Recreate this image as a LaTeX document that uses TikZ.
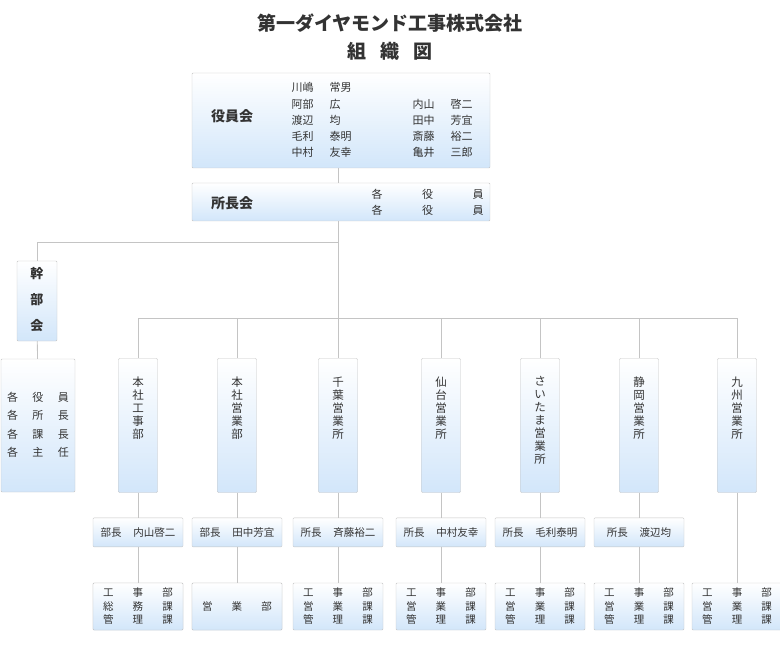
\documentclass[tikz,border=0pt]{standalone}
\usepackage{fontspec}
\setmainfont{Noto Sans CJK JP}
\usetikzlibrary{positioning}
\definecolor{txt}{HTML}{333333}
\definecolor{edge}{HTML}{C4C4C4}
\definecolor{boxblue}{HTML}{D2E6FA}
\newcommand{\trio}[3]{\hbox to 70pt{#1\hfil #2\hfil #3}}

\begin{document}
\begin{tikzpicture}[x=1pt, y=-1pt,
    every node/.style={text=txt},
    box/.style={rectangle, draw=edge, top color=white, bottom color=boxblue, rounded corners=1pt, inner sep=0pt},
    branch/.style={box, minimum width=39pt, minimum height=134pt},
    chief/.style={box, minimum width=90pt, minimum height=29pt, font=\fontsize{10.5}{12}\selectfont},
    dept/.style={box, minimum width=90pt, minimum height=47pt, font=\fontsize{10.5}{13.5}\selectfont, align=center},
    vtext/.style={anchor=north, align=center, font=\fontsize{11.5}{13}\selectfont},
    link/.style={draw=edge, line width=0.8pt}
]
\useasboundingbox (0,0) rectangle (780,650);

% title
\node[font=\fontsize{19}{22}\bfseries\selectfont] (title) at (390,23) {第一ダイヤモンド工事株式会社};
\node[font=\fontsize{19}{22}\bfseries\selectfont] (subtitle) at (390,51) {組\hspace{14pt}織\hspace{14pt}図};

% board and managers meeting
\node[box, minimum width=298pt, minimum height=95pt] (board) at (341,120.5) {};
\node[font=\fontsize{14}{16}\bfseries\selectfont] (boardlbl) at (232,116) {役員会};
\node[anchor=north west, align=left, font=\fontsize{11}{16.3}\selectfont] (names1) at (288,79)
  {川嶋\hspace{16pt}常男\\阿部\hspace{16pt}広\\渡辺\hspace{16pt}均\\毛利\hspace{16pt}泰明\\中村\hspace{16pt}友幸};
\node[anchor=north west, align=left, font=\fontsize{11}{16.3}\selectfont] (names2) at (409,95.3)
  {内山\hspace{16pt}啓二\\田中\hspace{16pt}芳宜\\斎藤\hspace{16pt}裕二\\亀井\hspace{16pt}三郎};
\node[box, minimum width=298pt, minimum height=38pt] (heads) at (341,202) {};
\node[font=\fontsize{14}{16}\bfseries\selectfont] (headslbl) at (232,203) {所長会};
\node[anchor=west, align=left, font=\fontsize{11}{16.5}\selectfont] (headstxt) at (368,202.5)
  {\hbox to 112pt{各\hfil 役\hfil 員}\\\hbox to 112pt{各\hfil 役\hfil 員}};
\draw[link] (board.south -| 338,0) -- (heads.north -| 338,0);

% executive meeting
\node[box, minimum width=40pt, minimum height=80pt] (exec) at (37,301) {};
\node[vtext, font=\fontsize{13}{26}\bfseries\selectfont] (execlbl) at (37,264) {幹\\部\\会};
\node[box, minimum width=74pt, minimum height=133pt] (all) at (38,425.5) {};
\node[align=left, font=\fontsize{11}{18.5}\selectfont] (alltxt) at (38,425)
  {\hbox to 62pt{各\hfil 役\hfil 員}\\\hbox to 62pt{各\hfil 所\hfil 長}\\\hbox to 62pt{各\hfil 課\hfil 長}\\\hbox to 62pt{各\hfil 主\hfil 任}};
\coordinate (split) at (338,242);
\draw[link] (heads.south -| split) -- (338,318);
\draw[link] (split) -| (exec.north);
\draw[link] (exec) -- (all);

% branches
\foreach \c/\n/\t/\m in {
    138/hq/{本\\社\\工\\事\\部}/{部長\hspace{12pt}内山啓二},
    237/sales/{本\\社\\営\\業\\部}/{部長\hspace{12pt}田中芳宜},
    338/chiba/{千\\葉\\営\\業\\所}/{所長\hspace{12pt}斉藤裕二},
    441/sendai/{仙\\台\\営\\業\\所}/{所長\hspace{12pt}中村友幸},
    540/saitama/{さ\\い\\た\\ま\\営\\業\\所}/{所長\hspace{12pt}毛利泰明},
    639/shizuoka/{静\\岡\\営\\業\\所}/{所長\hspace{12pt}渡辺均},
    737/kyushu/{九\\州\\営\\業\\所}/{}} {
  \node[branch] (\n) at (\c,425.5) {};
  \node[vtext] (\n-t) at (\c,373) {\t};
  \draw[link] (\c,318) -- (\n.north);
  \node[dept] (\n-d) at (\c,606.5) {\trio{工}{事}{部}\\\trio{営}{業}{課}\\\trio{管}{理}{課}};
}
\draw[link] (138,318) -- (737,318);
\foreach \n/\m in {hq/{部長\hspace{12pt}内山啓二}, sales/{部長\hspace{12pt}田中芳宜},
    chiba/{所長\hspace{12pt}斉藤裕二}, sendai/{所長\hspace{12pt}中村友幸},
    saitama/{所長\hspace{12pt}毛利泰明}, shizuoka/{所長\hspace{12pt}渡辺均}} {
  \node[chief, below=25pt of \n] (\n-c) {\m};
  \draw[link] (\n) -- (\n-c);
  \draw[link] (\n-c) -- (\n-d);
}
\draw[link] (kyushu) -- (kyushu-d);

% departments that differ
\node[dept] (hq-d) at (138,606.5) {\trio{工}{事}{部}\\\trio{総}{務}{課}\\\trio{管}{理}{課}};
\node[dept] (sales-d) at (237,606.5) {\trio{営}{業}{部}};
\end{tikzpicture}
\end{document}
